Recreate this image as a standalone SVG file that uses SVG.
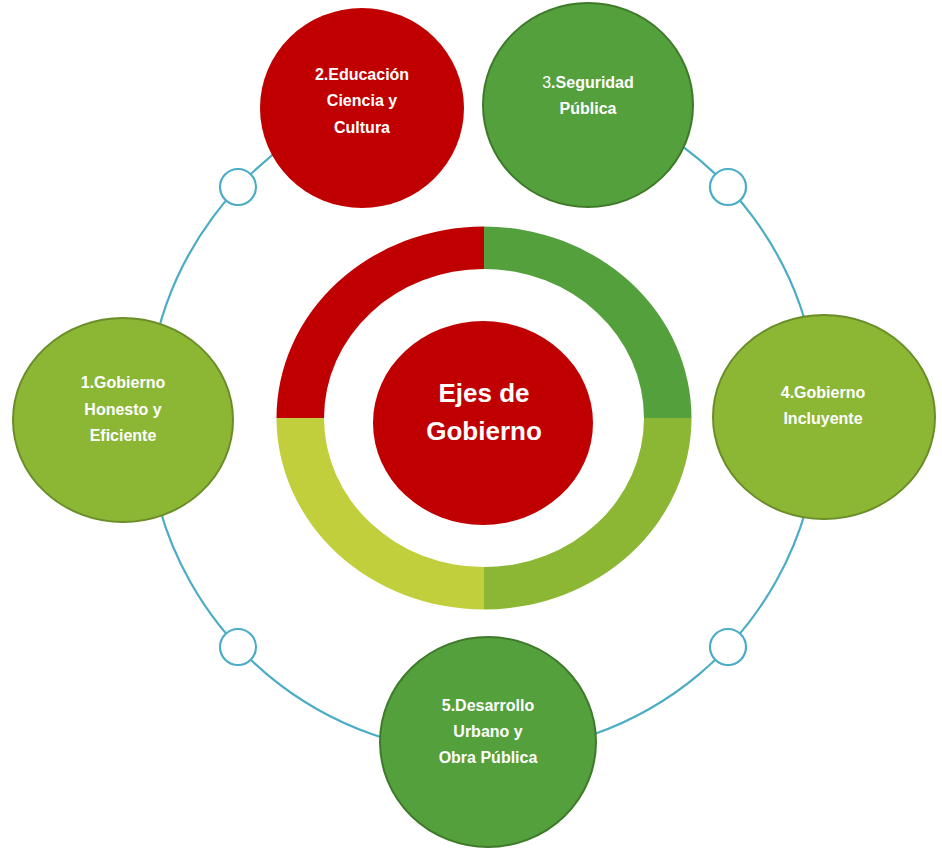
<svg xmlns="http://www.w3.org/2000/svg" width="942" height="848" viewBox="0 0 942 848">
<style>
.ring{fill:none;stroke:#4bacc6;stroke-width:2.2}
.dot{fill:#ffffff;stroke:#4bacc6;stroke-width:2.2}
.t{font-family:"Liberation Sans",Arial,sans-serif;font-weight:bold;fill:#ffffff;text-anchor:middle;font-size:16px}
.tc{font-family:"Liberation Sans",Arial,sans-serif;font-weight:bold;fill:#ffffff;text-anchor:middle;font-size:26px}
.red{fill:#c00000}
.dg{fill:#54a03c;stroke:#3e7a2a;stroke-width:2}
.lg{fill:#8bb735;stroke:#6b8d28;stroke-width:2}
</style>
<rect width="942" height="848" fill="#ffffff"/>
<g id="connectors">
<path class="ring" d="M 152.1 358.7 A 336 336 0 0 1 330.5 117.6"/>
<path class="ring" d="M 635.5 117.6 A 336 336 0 0 1 813.9 358.7"/>
<path class="ring" d="M 813.9 475.3 A 336 336 0 0 1 152.1 475.3"/>
<circle class="dot" cx="238" cy="187" r="18"/>
<circle class="dot" cx="728" cy="187" r="18"/>
<circle class="dot" cx="238" cy="647" r="18"/>
<circle class="dot" cx="728" cy="647" r="18"/>
</g>
<g id="center">
<path d="M 484 226.5 A 207.5 191.5 0 0 0 276.5 418 L 324 418 A 160 149 0 0 1 484 269 Z" fill="#c00000"/>
<path d="M 484 226.5 A 207.5 191.5 0 0 1 691.5 418 L 644 418 A 160 149 0 0 0 484 269 Z" fill="#54a03c"/>
<path d="M 691.5 418 A 207.5 191.5 0 0 1 484 609.5 L 484 567 A 160 149 0 0 0 644 418 Z" fill="#8bb735"/>
<path d="M 484 609.5 A 207.5 191.5 0 0 1 276.5 418 L 324 418 A 160 149 0 0 0 484 567 Z" fill="#c0cf3b"/>
<ellipse class="red" cx="483" cy="423" rx="110" ry="102"/>
<text class="tc" x="484" y="402">Ejes de</text>
<text class="tc" x="484" y="440">Gobierno</text>
</g>
<g id="node1">
<ellipse class="lg" cx="123" cy="420" rx="110" ry="102"/>
<text class="t" x="123" y="388">1.Gobierno</text>
<text class="t" x="123" y="415">Honesto y</text>
<text class="t" x="123" y="441">Eficiente</text>
</g>
<g id="node2">
<ellipse class="red" cx="362" cy="108" rx="102" ry="100"/>
<text class="t" x="362" y="80">2.Educación</text>
<text class="t" x="362" y="106">Ciencia y</text>
<text class="t" x="362" y="133">Cultura</text>
</g>
<g id="node3">
<ellipse class="dg" cx="588" cy="105" rx="105" ry="102"/>
<text class="t" x="588" y="88"><tspan font-weight="normal">3</tspan>.Seguridad</text>
<text class="t" x="588" y="114">Pública</text>
</g>
<g id="node4">
<ellipse class="lg" cx="824" cy="417" rx="111" ry="102"/>
<text class="t" x="823" y="398">4.Gobierno</text>
<text class="t" x="823" y="424">Incluyente</text>
</g>
<g id="node5">
<ellipse class="dg" cx="488" cy="742" rx="108" ry="105"/>
<text class="t" x="488" y="711">5.Desarrollo</text>
<text class="t" x="488" y="737">Urbano y</text>
<text class="t" x="488" y="763">Obra Pública</text>
</g>
</svg>
